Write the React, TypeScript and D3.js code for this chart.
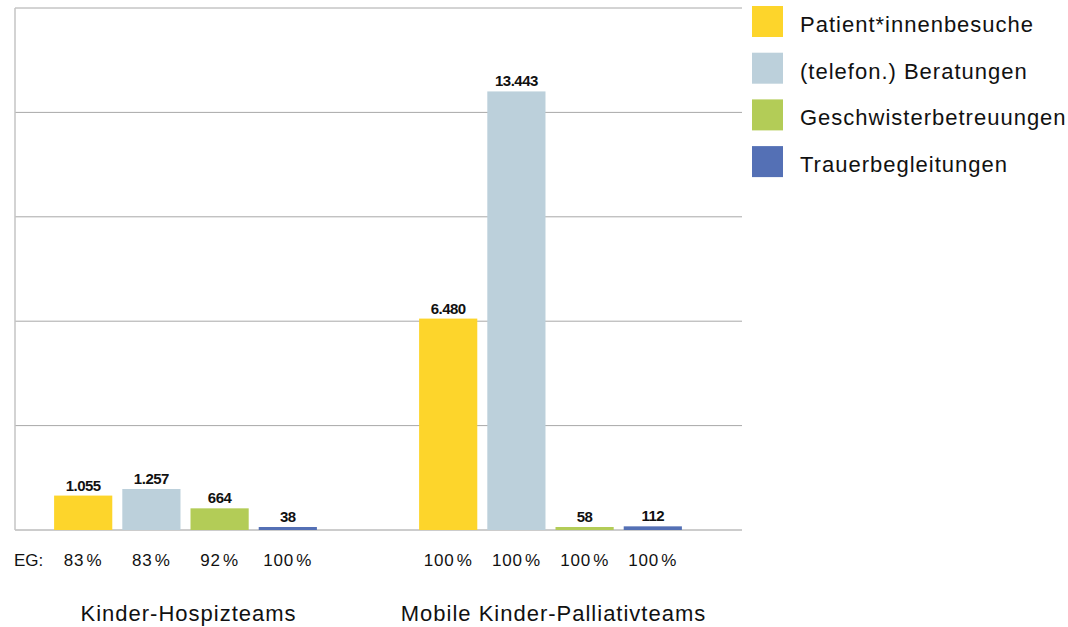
import * as React from 'react';
import * as d3 from 'd3';

const groups = ['Kinder-Hospizteams', 'Mobile Kinder-Palliativteams'];
const series = [
  'Patient*innenbesuche',
  '(telefon.) Beratungen',
  'Geschwisterbetreuungen',
  'Trauerbegleitungen',
];
const colors = ['#FDD52B', '#BCD0DB', '#B3CC57', '#5470B5'];
const hospizValues = [1055, 1257, 664, 38];
const palliativValues = [6480, 13443, 58, 112];
const hospizEG = ['83', '83', '92', '100'];
const palliativEG = ['100', '100', '100', '100'];
const gridTicks = [0, 3200, 6400, 9600, 12800, 16000];

const values = [hospizValues, palliativValues];
const egs = [hospizEG, palliativEG];

const fmt = (v: number) => d3.format(',')(v).replace(/,/g, '.');

export default function App() {
  const width = 1068;
  const height = 627;
  const plot = { left: 15, right: 742, top: 8, bottom: 530 };

  const y = d3.scaleLinear().domain([0, 16000]).range([plot.bottom, plot.top]);

  const x0 = d3
    .scaleBand()
    .domain(groups)
    .range([3, 733])
    .paddingInner(0.28)
    .paddingOuter(0.14);

  const x1 = d3
    .scaleBand()
    .domain(series)
    .range([0, x0.bandwidth()])
    .paddingInner(0.147);

  const font = "'Liberation Sans', Arial, sans-serif";

  return (
    <svg width={width} height={height} style={{ position: 'absolute', left: 0, top: 0 }}>
      <rect width={width} height={height} fill="#fff" />
      {gridTicks.map((t) => (
        <line
          key={t}
          x1={plot.left}
          x2={plot.right}
          y1={y(t)}
          y2={y(t)}
          stroke={t === 0 ? '#9a9a9a' : '#a8a8a8'}
          strokeWidth={1}
        />
      ))}
      <line x1={plot.left} x2={plot.left} y1={plot.top} y2={plot.bottom} stroke="#c4c4c4" strokeWidth={1.5} />

      {groups.map((g, gi) => (
        <g key={g} transform={`translate(${x0(g)},0)`}>
          {series.map((s, si) => {
            const v = values[gi][si];
            const bx = x1(s)!;
            const top = Math.min(y(v), plot.bottom - 3);
            return (
              <g key={s}>
                <rect x={bx} y={top} width={x1.bandwidth()} height={plot.bottom - top} fill={colors[si]} />
                <text
                  x={bx + x1.bandwidth() / 2}
                  y={top - 5}
                  textAnchor="middle"
                  fontFamily={font}
                  fontWeight="bold"
                  fontSize={15}
                  letterSpacing={-0.5}
                  fill="#111"
                >
                  {fmt(v)}
                </text>
                <text
                  x={bx + x1.bandwidth() / 2}
                  y={566}
                  textAnchor="middle"
                  fontFamily={font}
                  fontSize={17}
                  letterSpacing={0.8}
                  fill="#111"
                >
                  {egs[gi][si] + '\u200A%'}
                </text>
              </g>
            );
          })}
          <text
            x={x1.range()[1] / 2 + 3}
            y={621}
            textAnchor="middle"
            fontFamily={font}
            fontSize={22}
            letterSpacing={1}
            fill="#111"
          >
            {g}
          </text>
        </g>
      ))}
      <text x={14} y={566} fontFamily={font} fontSize={17} fill="#111">
        EG:
      </text>

      {series.map((s, i) => (
        <g key={s} transform={`translate(752,${6 + i * 46.7})`}>
          <rect width={31} height={31} fill={colors[i]} />
          <text x={48} y={26} fontFamily={font} fontSize={22} letterSpacing={1} fill="#111">
            {s}
          </text>
        </g>
      ))}
    </svg>
  );
}
